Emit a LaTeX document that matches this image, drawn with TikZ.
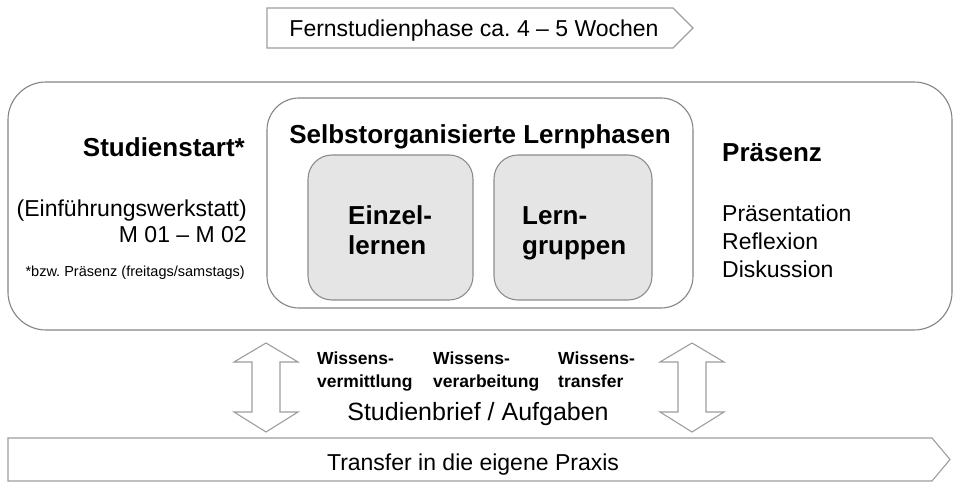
\documentclass[tikz,border=0pt]{standalone}
\usepackage{fontspec}
\setmainfont{Liberation Sans}
\frenchspacing
\begin{document}
\begin{tikzpicture}[x=1pt,y=-1pt,
  outline/.style={draw=black!48,line width=1.1pt},
  arrowshape/.style={draw=black!38,line width=1.1pt,fill=white},
  graybox/.style={draw=black!45,line width=1.1pt,fill=black!10,rounded corners=24pt},
  txt/.style={inner sep=0pt,font=\fontsize{23}{27}\selectfont},
  btxt/.style={inner sep=0pt,font=\fontsize{26}{30}\selectfont\bfseries},
  stxt/.style={inner sep=0pt,font=\fontsize{17.5}{21}\selectfont\bfseries},
  ftxt/.style={inner sep=0pt,font=\fontsize{14.5}{17}\selectfont}]
\useasboundingbox (0,0) rectangle (960,489);
\fill[white] (0,0) rectangle (960,489);
% top arrow
\draw[arrowshape] (267,8) -- (673,8) -- (693,28) -- (673,48) -- (267,48) -- cycle;
\node[txt,anchor=base] (fern) at (474,37) {Fernstudienphase ca. 4 – 5 Wochen};
% big box
\draw[outline,rounded corners=38pt] (8,82) rectangle (952,330);
% inner box
\draw[outline,rounded corners=32pt] (267,98) rectangle (693,308);
\draw[graybox] (308,155) rectangle (473,300);
\draw[graybox] (494,155) rectangle (652,300);
% left texts
\node[btxt,anchor=base east] (start) at (245,157) {Studienstart*};
\node[txt,anchor=base east] (einf) at (247,216) {(Einführungswerkstatt)};
\node[txt,anchor=base east] (mod) at (247,242) {M 01 – M 02};
\node[ftxt,anchor=base east] (fn) at (245,276) {*bzw. Präsenz (freitags/samstags)};
% inner texts
\node[btxt,anchor=base] (selbst) at (480,144) {Selbstorganisierte Lernphasen};
\node[btxt,anchor=base west] (ein1) at (348,224) {Einzel-};
\node[btxt,anchor=base west] (ein2) at (348,254) {lernen};
\node[btxt,anchor=base west] (lg1) at (522,224) {Lern-};
\node[btxt,anchor=base west] (lg2) at (522,254) {gruppen};
% right texts
\node[btxt,anchor=base west] (praes) at (722,161) {Präsenz};
\node[txt,anchor=base west] (p1) at (722,221) {Präsentation};
\node[txt,anchor=base west] (p2) at (722,249) {Reflexion};
\node[txt,anchor=base west] (p3) at (722,277) {Diskussion};
% double arrows
\draw[arrowshape] (266,343) -- (298,362) -- (280,362) -- (280,412) -- (298,412) -- (266,432)
  -- (234,412) -- (252,412) -- (252,362) -- (234,362) -- cycle;
\draw[arrowshape] (692,343) -- (724,362) -- (706,362) -- (706,412) -- (724,412) -- (692,432)
  -- (660,412) -- (678,412) -- (678,362) -- (660,362) -- cycle;
% middle texts
\node[stxt,anchor=base west] (w1a) at (317,364) {Wissens-};
\node[stxt,anchor=base west] (w1b) at (317,387) {vermittlung};
\node[stxt,anchor=base west] (w2a) at (433,364) {Wissens-};
\node[stxt,anchor=base west] (w2b) at (433,387) {verarbeitung};
\node[stxt,anchor=base west] (w3a) at (558,364) {Wissens-};
\node[stxt,anchor=base west] (w3b) at (558,387) {transfer};
\node[txt,anchor=base,font=\fontsize{25}{29}\selectfont] (brief) at (478,420) {Studienbrief / Aufgaben};
% bottom arrow
\draw[arrowshape] (8,438) -- (932,438) -- (950,459.5) -- (932,481) -- (8,481) -- cycle;
\node[txt,anchor=base] (transfer) at (473,470) {Transfer in die eigene Praxis};
\end{tikzpicture}
\end{document}
